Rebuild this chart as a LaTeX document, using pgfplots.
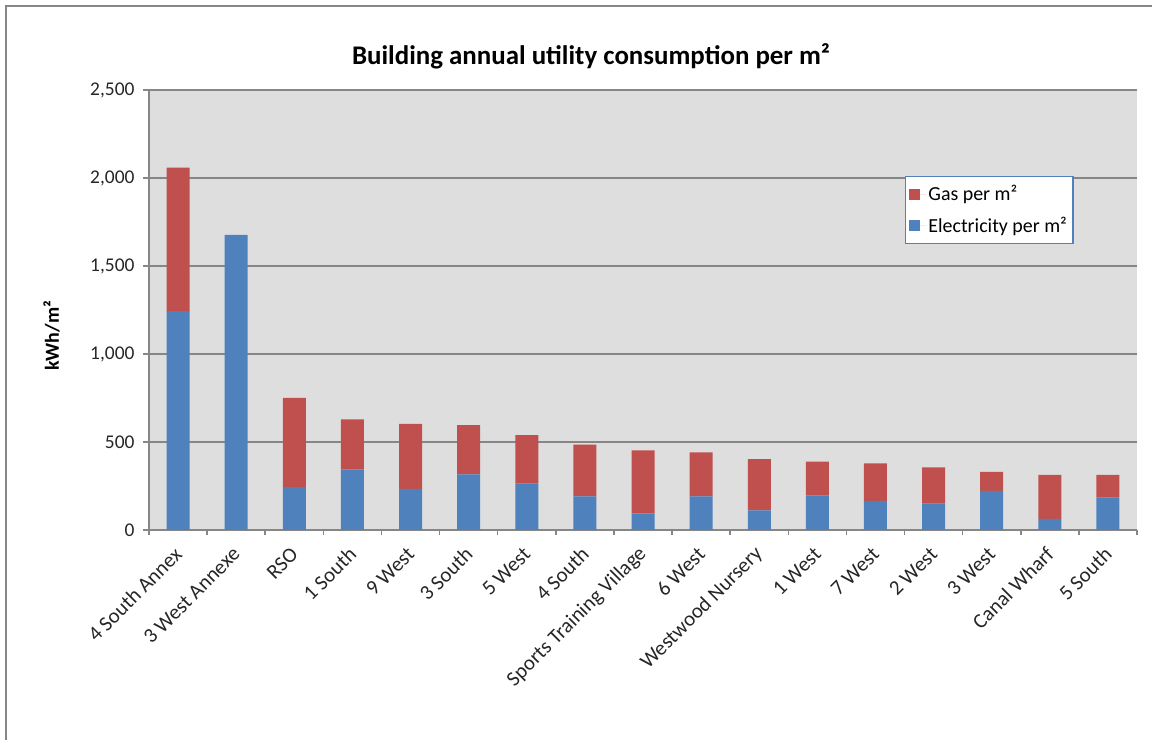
\documentclass[border=0pt]{standalone}
\usepackage{pgfplots}
\pgfplotsset{compat=1.18}
\usepackage{fontspec}
\setmainfont{Carlito}
\definecolor{elec}{HTML}{4F81BD}
\definecolor{gas}{HTML}{C0504D}
\definecolor{plotbg}{HTML}{DEDEDE}
\definecolor{gridc}{HTML}{868686}
\begin{document}
\begin{tikzpicture}[x=1bp,y=1bp]
\path[use as bounding box] (0,0) rectangle (1152,740);
\draw[gridc, line width=2bp] (6,0) -- (6,734) -- (1152,734);
\node[font=\fontsize{27}{32}\selectfont\bfseries] at (591,684) {Building annual utility consumption per m²};
\begin{axis}[
  at={(149bp,210bp)}, anchor=south west,
  scale only axis, width=988bp, height=440bp,
  ybar stacked, bar width=23bp,
  xmin=-0.5, xmax=16.5, ymin=0, ymax=2500,
  ytick={0,500,...,2500},
  xtick={0,...,16},
  xticklabels={4 South Annex,3 West Annexe,RSO,1 South,9 West,3 South,5 West,4 South,Sports Training Village,6 West,Westwood Nursery,1 West,7 West,2 West,3 West,Canal Wharf,5 South},
  minor xtick={-0.5,0.5,...,16.5},
  axis lines*=left,
  axis line style={gridc, line width=2bp, -},
  axis background/.style={fill=plotbg},
  ymajorgrids=true,
  major grid style={gridc, line width=1.6bp},
  tick align=outside,
  major tick length=6bp, minor tick length=5bp,
  major x tick style={draw=none},
  minor x tick style={gridc, line width=1.5bp},
  y tick style={gridc, line width=1.5bp},
  /pgf/number format/assume math mode=true,
  /pgf/number format/1000 sep={,},
  scaled y ticks=false,
  yticklabel style={font=\fontsize{19.5}{23}\selectfont, text=black!85, xshift=-5bp},
  xticklabel style={font=\fontsize{21}{25}\selectfont, text=black!85, yshift=-14bp, xshift=1bp, rotate=45, anchor=east, inner sep=1bp},
  ylabel={kWh/m²},
  ylabel style={at={(axis description cs:-0.0985,0.441)}, anchor=center, rotate=0, font=\fontsize{20}{24}\selectfont\bfseries},
  legend style={at={(axis description cs:0.765,0.8045)}, anchor=north west, draw=elec, line width=1.2bp, fill=white,
    font=\fontsize{20}{24}\selectfont, inner xsep=4bp, inner ysep=7bp, row sep=11bp, cells={anchor=west}},
  reverse legend,
  legend image code/.code={\fill[#1] (0bp,-5.5bp) rectangle (11bp,5.5bp); \path (0bp,0bp) -- (17bp,0bp);},
]
\addplot[fill=elec, draw=none] coordinates {(0,1244) (1,1677) (2,244) (3,344) (4,233) (5,316) (6,263) (7,191) (8,95) (9,191) (10,112) (11,197) (12,165) (13,150) (14,222) (15,63) (16,186)};
\addplot[fill=gas, draw=none] coordinates {(0,815) (1,0) (2,507) (3,284) (4,370) (5,280) (6,276) (7,294) (8,358) (9,250) (10,291) (11,191) (12,214) (13,206) (14,108) (15,250) (16,127)};
\legend{Electricity per m², Gas per m²}
\end{axis}
\end{tikzpicture}
\end{document}
